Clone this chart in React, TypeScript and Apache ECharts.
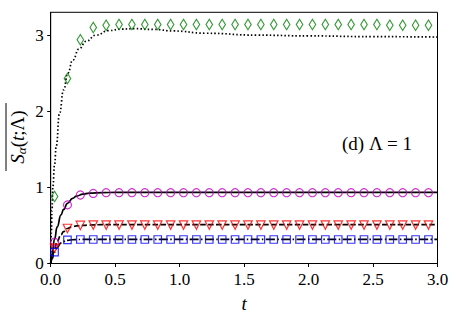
import React, { useEffect, useRef } from "react";
import * as echarts from "echarts";

// Marker sample times
const markerT = [
  0.03, 0.13, 0.23, 0.33, 0.43, 0.53, 0.63, 0.73, 0.83, 0.93,
  1.03, 1.13, 1.23, 1.33, 1.43, 1.53, 1.63, 1.73, 1.83, 1.93,
  2.03, 2.13, 2.23, 2.33, 2.43, 2.53, 2.63, 2.73, 2.83, 2.93,
];
const diamondVals = [
  0.88, 2.43, 2.94, 3.1, 3.13, 3.14, 3.14, 3.14, 3.14, 3.14,
  3.14, 3.14, 3.14, 3.14, 3.14, 3.14, 3.14, 3.14, 3.14, 3.14,
  3.14, 3.14, 3.14, 3.14, 3.14, 3.14, 3.13, 3.13, 3.13, 3.13,
];
const circleVals = [
  0.28, 0.77, 0.9, 0.92, 0.93, 0.93, 0.93, 0.93, 0.93, 0.93,
  0.93, 0.93, 0.93, 0.93, 0.93, 0.93, 0.93, 0.93, 0.93, 0.93,
  0.93, 0.93, 0.93, 0.93, 0.93, 0.93, 0.93, 0.93, 0.93, 0.93,
];
const triangleVals = [
  0.2, 0.46, 0.5, 0.505, 0.505, 0.505, 0.505, 0.505, 0.505, 0.505,
  0.505, 0.505, 0.505, 0.505, 0.505, 0.505, 0.505, 0.505, 0.505, 0.505,
  0.505, 0.505, 0.505, 0.505, 0.505, 0.505, 0.505, 0.505, 0.505, 0.505,
];
const squareVals = [
  0.15, 0.31, 0.315, 0.315, 0.315, 0.315, 0.315, 0.315, 0.315, 0.315,
  0.315, 0.315, 0.315, 0.315, 0.315, 0.315, 0.315, 0.315, 0.315, 0.315,
  0.315, 0.315, 0.315, 0.315, 0.315, 0.315, 0.315, 0.315, 0.315, 0.315,
];

// Theory curves
const dottedT = [0, 0.005, 0.01, 0.017, 0.03, 0.043, 0.068, 0.1, 0.133, 0.17, 0.22, 0.275, 0.35, 0.45, 0.55, 0.65, 0.8, 0.95, 1.2, 1.6, 2.0, 2.5, 3.0];
const dottedV = [0, 0.4, 0.7, 1.01, 1.3, 1.54, 1.97, 2.28, 2.5, 2.67, 2.82, 2.92, 3.0, 3.06, 3.08, 3.085, 3.075, 3.055, 3.025, 3.0, 2.99, 2.98, 2.975];

const solidT = [0, 0.01, 0.03, 0.05, 0.08, 0.1, 0.13, 0.17, 0.2, 0.25, 0.3, 0.4, 0.5, 1.0, 2.0, 3.0];
const solidV = [0, 0.12, 0.32, 0.48, 0.64, 0.71, 0.79, 0.855, 0.885, 0.912, 0.925, 0.932, 0.934, 0.935, 0.935, 0.935];

const dashedT = [0, 0.01, 0.03, 0.05, 0.08, 0.1, 0.13, 0.17, 0.2, 0.3, 0.4, 1.0, 2.0, 3.0];
const dashedV = [0, 0.08, 0.2, 0.29, 0.38, 0.42, 0.46, 0.485, 0.495, 0.506, 0.51, 0.512, 0.512, 0.512];

const dashDotT = [0, 0.01, 0.03, 0.05, 0.08, 0.1, 0.13, 0.17, 0.2, 0.3, 0.4, 1.0, 2.0, 3.0];
const dashDotV = [0, 0.06, 0.15, 0.21, 0.27, 0.29, 0.305, 0.312, 0.315, 0.318, 0.318, 0.318, 0.318, 0.318];

const xTicks = [0, 0.5, 1.0, 1.5, 2.0, 2.5, 3.0];
const yTicks = [0, 1, 2, 3];

const FONT = "Liberation Serif";

const zip = (t: number[], v: number[]) => t.map((x, i) => [x, v[i]]);

export default function App() {
  const ref = useRef<HTMLDivElement>(null);
  useEffect(() => {
    const chart = echarts.init(ref.current!, null, { renderer: "svg" });
    const lineSeries = (t: number[], v: number[], type: any, z = 3) => ({
      type: "line",
      data: zip(t, v),
      showSymbol: false,
      smooth: true,
      smoothMonotone: "x",
      z,
      lineStyle: { color: "#000", width: 1.7, type },
      silent: true,
    });
    const scatter = (v: number[], symbol: string, size: any, color: string, rotate = 0) => ({
      type: "scatter",
      data: zip(markerT, v),
      symbol,
      symbolSize: size,
      symbolRotate: rotate,
      z: 4,
      itemStyle: { color: "rgba(0,0,0,0)", borderColor: color, borderWidth: 1.2 },
      silent: true,
    });
    chart.setOption({
      animation: false,
      backgroundColor: "#fff",
      textStyle: { fontFamily: FONT },
      grid: {
        left: 50.7,
        right: 20.5,
        top: 12.3,
        bottom: 54.5,
        show: true,
        borderColor: "#000",
        borderWidth: 1,
      },
      xAxis: {
        type: "value",
        min: 0,
        max: 3,
        interval: 0.5,
        name: "t",
        nameLocation: "middle",
        nameGap: 30,
        nameTextStyle: { fontFamily: FONT, fontSize: 19, fontStyle: "italic", color: "#000" },
        axisLine: { show: true, onZero: false, lineStyle: { color: "#000", width: 1 } },
        axisTick: { show: true, length: 3.5, customValues: xTicks, lineStyle: { color: "#000" } },
        axisLabel: {
          customValues: xTicks,
          margin: 7,
          fontFamily: FONT,
          fontSize: 17,
          color: "#000",
          formatter: (v: number) => v.toFixed(1),
        },
        splitLine: { show: false },
      },
      yAxis: {
        type: "value",
        min: 0,
        max: 3.3,
        interval: 1,
        axisLine: { show: true, onZero: false, lineStyle: { color: "#000", width: 1 } },
        axisTick: { show: true, length: 3.5, customValues: yTicks, lineStyle: { color: "#000" } },
        axisLabel: {
          customValues: yTicks,
          margin: 7,
          fontFamily: FONT,
          fontSize: 17,
          color: "#000",
          formatter: (v: number) => String(Math.round(v)),
        },
        splitLine: { show: false },
      },
      graphic: [
        {
          type: "group",
          x: 17,
          y: 137,
          rotation: Math.PI / 2,
          children: [
            {
              type: "text",
              x: 0,
              y: 0,
              style: {
                text: "{i|S}{s|α}{n|(}{i|t}{n|;Λ)}",
                align: "center",
                verticalAlign: "middle",
                fill: "#000",
                fontFamily: FONT,
                fontSize: 18,
                rich: {
                  i: { fontFamily: FONT, fontSize: 19, fontStyle: "italic", fill: "#000", lineHeight: 22, verticalAlign: "middle" },
                  n: { fontFamily: FONT, fontSize: 19, fill: "#000", lineHeight: 22, verticalAlign: "middle" },
                  s: { fontFamily: FONT, fontSize: 13, fontStyle: "italic", fill: "#000", lineHeight: 22, verticalAlign: "bottom" },
                },
              },
            },
            {
              type: "line",
              shape: { x1: -34, y1: -11, x2: 34, y2: -11 },
              style: { stroke: "#000", lineWidth: 1 },
            },
          ],
        },
        {
          type: "text",
          left: 342,
          top: 134,
          style: {
            text: "(d) Λ = 1",
            fontFamily: FONT,
            fontSize: 19,
            fill: "#000",
          },
        },
      ],
      series: [
        lineSeries(dottedT, dottedV, [1.5, 2.2]),
        lineSeries(solidT, solidV, "solid"),
        lineSeries(dashedT, dashedV, [5.5, 2.4]),
        lineSeries(dashDotT, dashDotV, [9, 2.4, 1.5, 2.4]),
        scatter(diamondVals, "diamond", [6.5, 10.5], "#008000"),
        scatter(circleVals, "circle", 8, "#bf00bf"),
        scatter(triangleVals, "triangle", 8.5, "#ff0000", 180),
        scatter(squareVals, "rect", 7.5, "#0000ff"),
      ],
    });
    return () => chart.dispose();
  }, []);
  return (
    <div
      ref={ref}
      style={{ position: "fixed", left: 0, top: 0, width: 458, height: 318, background: "#fff" }}
    />
  );
}
